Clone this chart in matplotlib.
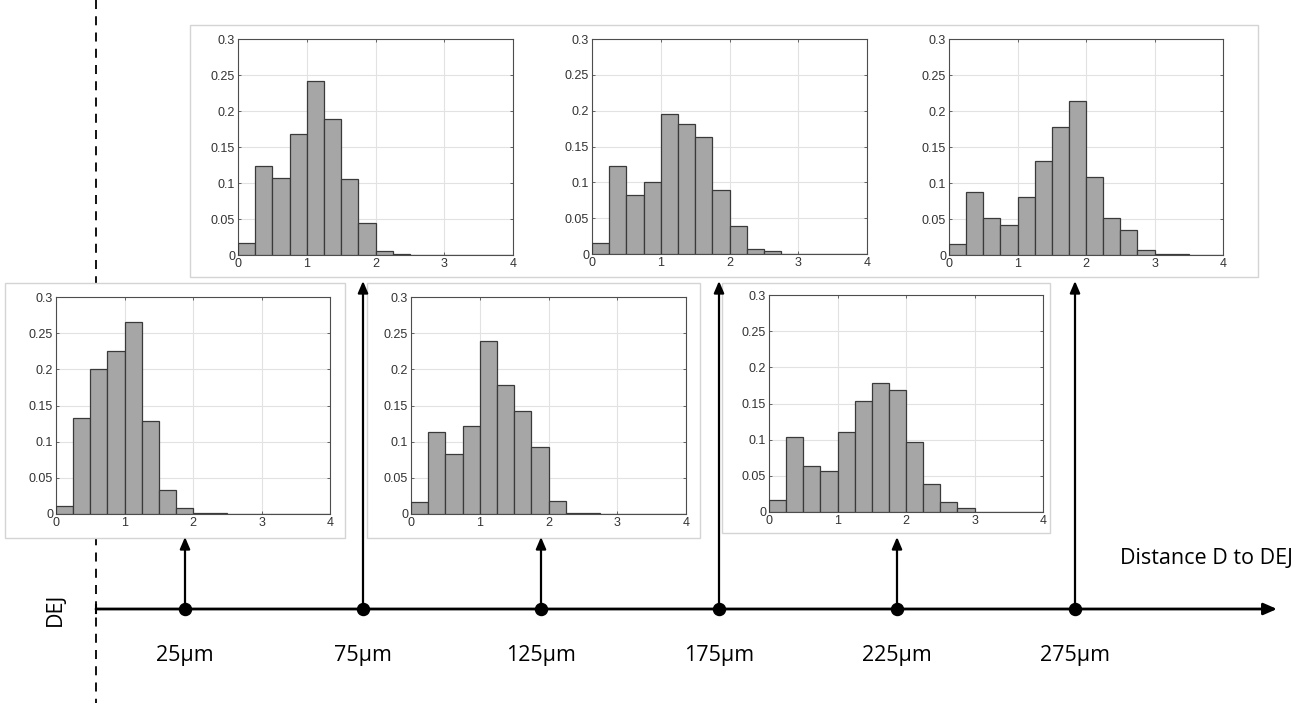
import numpy as np
import matplotlib.pyplot as plt
from matplotlib.patches import Rectangle

# distance from the DEJ (um) and histogram of each sample, bins of 0.25 on [0, 4]
distances = [25, 75, 125, 175, 225, 275]
bin_edges = np.arange(0, 4.01, 0.25)

hist_25 = [0.011, 0.133, 0.200, 0.226, 0.265, 0.129, 0.033, 0.008,
           0.002, 0.001, 0, 0, 0, 0, 0, 0]
hist_75 = [0.016, 0.123, 0.107, 0.168, 0.241, 0.189, 0.106, 0.044,
           0.006, 0.001, 0, 0, 0, 0, 0, 0]
hist_125 = [0.016, 0.113, 0.083, 0.122, 0.239, 0.178, 0.142, 0.093,
            0.018, 0.002, 0.001, 0, 0, 0, 0, 0]
hist_175 = [0.015, 0.123, 0.083, 0.100, 0.195, 0.182, 0.163, 0.089,
            0.039, 0.007, 0.004, 0, 0, 0, 0, 0]
hist_225 = [0.016, 0.104, 0.064, 0.056, 0.110, 0.153, 0.178, 0.168,
            0.097, 0.039, 0.014, 0.005, 0, 0, 0, 0]
hist_275 = [0.015, 0.087, 0.051, 0.041, 0.080, 0.131, 0.178, 0.214,
            0.109, 0.052, 0.035, 0.007, 0.001, 0.001, 0, 0]

histograms = [hist_25, hist_75, hist_125, hist_175, hist_225, hist_275]
y_ticks = [0, 0.05, 0.1, 0.15, 0.2, 0.25, 0.3]
y_tick_labels = ["0", "0.05", "0.1", "0.15", "0.2", "0.25", "0.3"]
x_ticks = [0, 1, 2, 3, 4]

W, H = 1305, 703
TXT_FONT = ["Open Sans", "DejaVu Sans"]

# panel layout in pixels: (left, right, top, bottom) of the plot area
panel_px = [
    (56, 330, 297, 514),
    (238, 513, 39, 255),
    (411, 686, 297, 514),
    (592, 867, 39, 254),
    (769, 1043, 295, 512),
    (949, 1223, 39, 255),
]
# pasted-image frames behind each row of panels: (left, right, top, bottom)
frames_px = [
    (190, 1258, 25, 277),
    (5, 345, 283, 538),
    (367, 700, 283, 538),
    (722, 1050, 283, 533),
]
arrow_tip_px = [537, 281, 537, 281, 537, 281]
line_y = 609


def main():
    fig = plt.figure(figsize=(W / 100, H / 100), dpi=100)

    # timeline axes spans the whole figure; x in micrometres, y in pixels
    px_per_um = (1075 - 185) / 250
    x0 = 185 - 25 * px_per_um
    tl = fig.add_axes([0, 0, 1, 1])
    tl.set_xlim(-x0 / px_per_um, (W - x0) / px_per_um)
    tl.set_ylim(H, 0)
    tl.axis("off")

    to_um = lambda px: (px - x0) / px_per_um

    # DEJ dashed line
    tl.plot([0, 0], [0, H], ls=(0, (5, 4)), color="black", lw=1.3, zorder=1)
    # main distance axis with arrow
    tl.annotate("", xy=(to_um(1277), line_y), xytext=(0, line_y),
                arrowprops=dict(arrowstyle="-|>,head_length=0.8,head_width=0.35",
                                color="black", lw=2, shrinkA=0, shrinkB=0),
                zorder=2)
    tl.plot([0, 0], [line_y - 4, line_y + 4], color="black", lw=1.5, zorder=2)

    for d, tip in zip(distances, arrow_tip_px):
        tl.annotate("", xy=(d, tip), xytext=(d, line_y),
                    arrowprops=dict(arrowstyle="-|>,head_length=0.7,head_width=0.3",
                                    color="black", lw=1.6, shrinkA=0, shrinkB=0),
                    zorder=6)
        tl.text(d, 655, f"{d}µm", ha="center", va="center", fontsize=15.5,
                family=TXT_FONT)
    tl.scatter(distances, [line_y] * len(distances), s=75, color="black", zorder=3)

    tl.text(to_um(55), line_y, "DEJ", rotation=90, ha="center", va="center",
            fontsize=15.5, family=TXT_FONT)
    tl.text(to_um(1293), 558, "Distance D to DEJ", ha="right", va="center",
            fontsize=15.5, family=TXT_FONT)

    # white frames of the pasted histograms
    for l, r, t, b in frames_px:
        tl.add_patch(Rectangle((to_um(l), b), (r - l) / px_per_um, t - b,
                               facecolor="white", edgecolor="#d4d4d4",
                               lw=1, zorder=5))

    for hist, (l, r, t, b) in zip(histograms, panel_px):
        ax = fig.add_axes([l / W, 1 - b / H, (r - l) / W, (b - t) / H])
        ax.bar(bin_edges[:-1], hist, width=0.25, align="edge",
               color="#a6a6a6", edgecolor="#3a3a3a", linewidth=0.9, zorder=3)
        ax.set_xlim(0, 4)
        ax.set_ylim(0, 0.3)
        ax.set_xticks(x_ticks)
        ax.set_yticks(y_ticks)
        ax.set_yticklabels(y_tick_labels)
        ax.grid(True, color="#e2e2e2", lw=0.8, zorder=0)
        ax.set_axisbelow(True)
        for s in ax.spines.values():
            s.set_color("#4d4d4d")
            s.set_linewidth(0.8)
        ax.tick_params(direction="in", length=2.5, width=0.6, color="#4d4d4d",
                       labelsize=9, labelcolor="#333333", pad=2,
                       top=True, right=True)
        for lab in ax.get_xticklabels() + ax.get_yticklabels():
            lab.set_family(["Liberation Sans", "DejaVu Sans"])

    fig.savefig("out.png", dpi=100)


if __name__ == "__main__":
    main()
